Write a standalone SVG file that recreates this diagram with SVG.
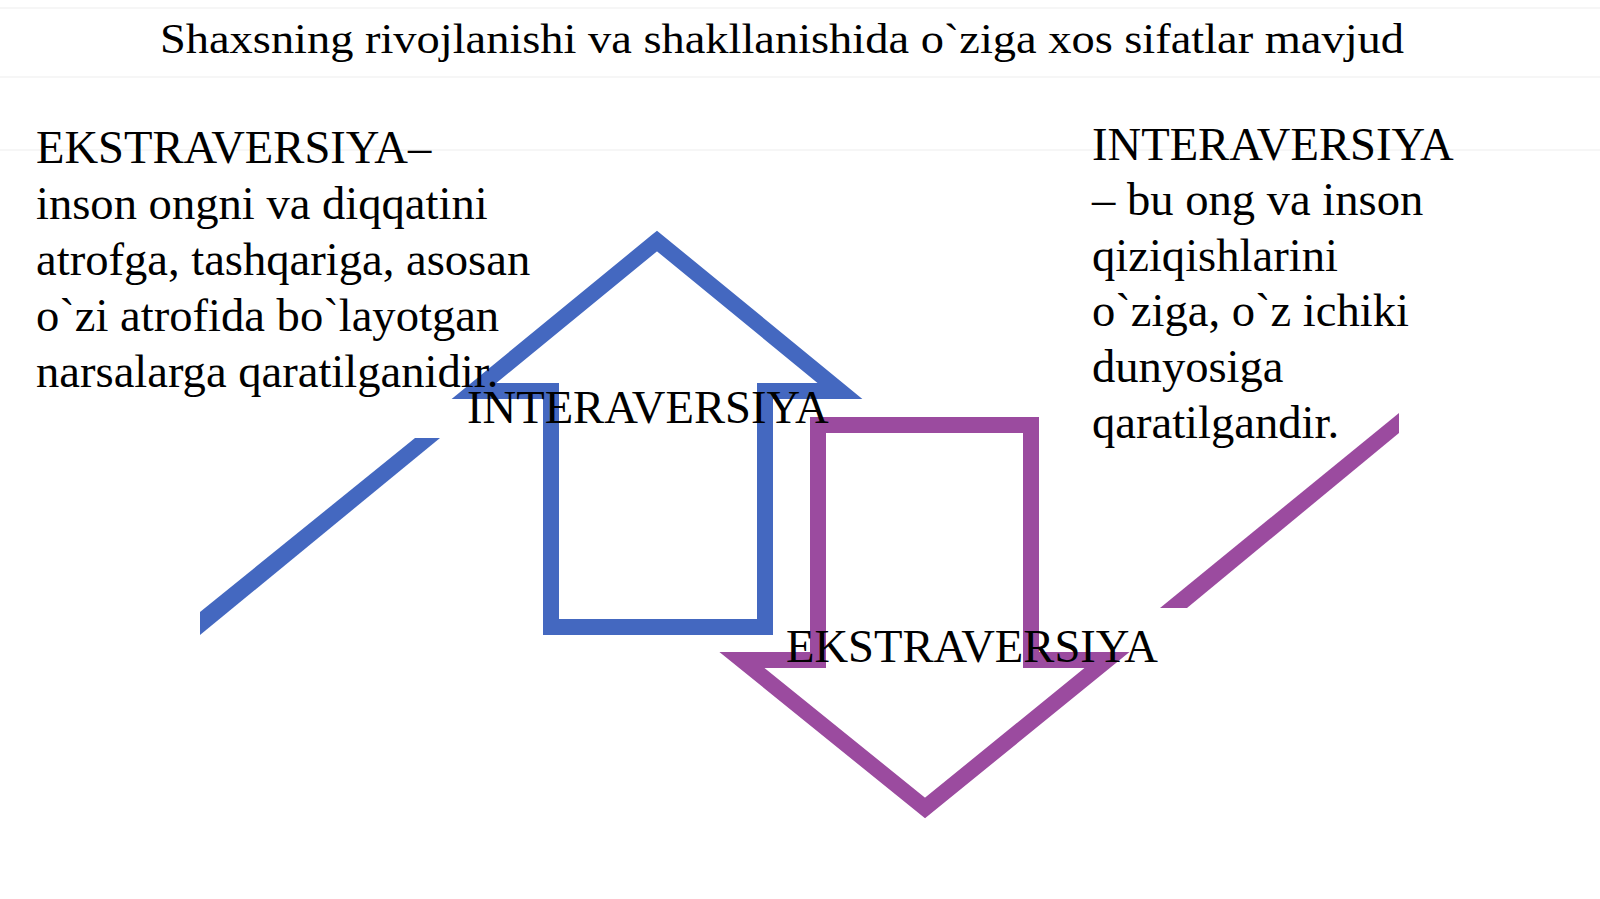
<svg xmlns="http://www.w3.org/2000/svg" width="1600" height="899" viewBox="0 0 1600 899">
  <style>
    .t { font-family: "Liberation Serif", "Times New Roman", serif; fill: #000; }
    .body { font-size: 46.6px; }
    .title { font-size: 42px; }
    .blue { fill: none; stroke: #4468c0; stroke-width: 16; stroke-linejoin: miter; stroke-miterlimit: 4; }
    .purple { fill: none; stroke: #9b4b9f; stroke-width: 16; stroke-linejoin: miter; stroke-miterlimit: 4; }
    .bg { stroke: #f6f6f6; stroke-width: 2; fill: none; }
  </style>
  <rect x="0" y="0" width="1600" height="899" fill="#ffffff"/>
  <g id="background">
    <line class="bg" x1="0" y1="8" x2="1600" y2="8"/>
    <line class="bg" x1="0" y1="77" x2="1600" y2="77"/>
    <line class="bg" x1="0" y1="150" x2="1600" y2="150"/>
  </g>
  <g id="connectors">
    <polygon id="line-blue" points="415,438 440,438 200,635 200,612" fill="#4468c0"/>
    <polygon id="line-purple" points="1160,608 1187,608 1399,433 1399,413" fill="#9b4b9f"/>
  </g>
  <g id="arrow-up">
    <polygon class="blue" points="657,241 474,391 551,391 551,627 765,627 765,391 840,391"/>
  </g>
  <g id="arrow-down">
    <polygon class="purple" points="818,425 1031,425 1031,660 1107,660 925,808 742,660 818,660"/>
  </g>
  <g id="title">
    <text class="t title" x="160" y="53" textLength="1244" lengthAdjust="spacingAndGlyphs">Shaxsning rivojlanishi va shakllanishida o`ziga xos sifatlar mavjud</text>
  </g>
  <g id="left-text">
    <text class="t body" x="36" y="163">EKSTRAVERSIYA–</text>
    <text class="t body" x="36" y="219">inson ongni va diqqatini</text>
    <text class="t body" x="36" y="275">atrofga, tashqariga, asosan</text>
    <text class="t body" x="36" y="331">o`zi atrofida bo`layotgan</text>
    <text class="t body" x="36" y="387">narsalarga qaratilganidir.</text>
  </g>
  <g id="right-text">
    <text class="t body" x="1092" y="160">INTERAVERSIYA</text>
    <text class="t body" x="1092" y="215">– bu ong va inson</text>
    <text class="t body" x="1092" y="271">qiziqishlarini</text>
    <text class="t body" x="1092" y="326">o`ziga, o`z ichiki</text>
    <text class="t body" x="1092" y="382">dunyosiga</text>
    <text class="t body" x="1092" y="438">qaratilgandir.</text>
  </g>
  <g id="label-up">
    <text class="t body" x="467" y="423">INTERAVERSIYA</text>
  </g>
  <g id="label-down">
    <text class="t body" x="786" y="662">EKSTRAVERSIYA</text>
  </g>
</svg>
